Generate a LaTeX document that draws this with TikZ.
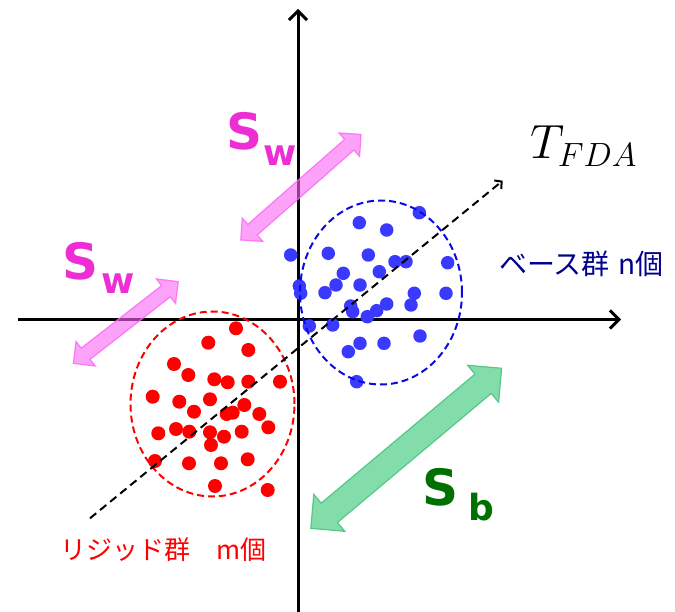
\RequirePackage{fix-cm}
\documentclass[tikz,border=0pt]{standalone}
\usepackage{fontspec}
\setsansfont{DejaVu Sans}
\newfontfamily\jpfont{Noto Sans CJK JP}
\usepackage{tikz}
\usetikzlibrary{arrows.meta,shapes.geometric,shapes.arrows}
\definecolor{fdablue}{RGB}{58,58,255}
\definecolor{fdaring}{RGB}{10,10,230}
\definecolor{fdared}{RGB}{255,0,0}
\definecolor{fdapink}{RGB}{236,46,212}
\definecolor{fdapinkfill}{RGB}{250,100,245}
\definecolor{fdagreen}{RGB}{0,112,0}
\definecolor{fdamint}{RGB}{130,221,170}
\definecolor{fdamintline}{RGB}{85,200,135}
\definecolor{fdanavy}{RGB}{0,0,140}

\begin{document}
\begin{tikzpicture}[x=1pt,y=-1pt, every node/.style={inner sep=0pt},
  bdot/.style={circle,fill=fdablue,minimum size=13.5pt},
  rdot/.style={circle,fill=fdared,minimum size=14pt},
  cluster/.style={ellipse,draw,line width=2pt,dash pattern=on 7pt off 4pt},
  widearrow/.style={double arrow,double arrow tip angle=90,line width=1.2pt,inner xsep=0pt},
  swlabel/.style={anchor=base west,text=fdapink,font=\sffamily\bfseries\fontsize{50}{50}\selectfont}]
\useasboundingbox (0,0) rectangle (675,612);
% axes
\coordinate (xl) at (18,319.5);
\coordinate (xr) at (621,319.5);
\coordinate (yb) at (298,615);
\coordinate (yt) at (298,9);
\draw[line width=3pt,-{Straight Barb[length=9pt,width=18pt]}] (xl) -- (xr);
\draw[line width=3pt,-{Straight Barb[length=9pt,width=18pt]}] (yb) -- (yt);
% base group
\foreach \x/\y [count=\i] in {359.3/222.7,386.7/230,419.3/212.7,290.7/255,328.3/253.3,368.3/255,
    395/261.7,406/261.7,447.7/262.7,343.3/273.3,379.3/271.7,299.3/286,300.7/293.3,325/292.7,
    336/285,360/285,414.3/293.3,446/293.3,350.7/306,352.7/311.7,386.7/304,376.7/310.7,
    367.3/316.7,411/305,309.3/326,332.7/325,420/336,360/343.3,348.3/351.7,384/343.3,356.7/381.7}
  \node[bdot] (b\i) at (\x,\y) {};
\node[cluster,draw=fdaring,minimum width=162pt,minimum height=184pt] (basering) at (381,292.5) {};
% rigid group
\foreach \x/\y [count=\i] in {236/328.3,208.3/342.7,248.3/350,174/364,188.3/375,214.3/379.3,
    227.7/382.3,248.3/381.7,280/381.7,152.7/396.7,179.3/401.7,210/399.3,194/411.7,244.3/405,
    226.7/414,232.7/412.7,259.3/414,268.3/427.3,158.3/433.3,176/429,189.3/431.7,210/432.3,
    224/436.7,241.7/431.7,211/445,155/461,189/463.3,221/463.3,247.7/459.3,215/486,267.7/490}
  \node[rdot] (r\i) at (\x,\y) {};
\node[cluster,draw=fdared,minimum width=164pt,minimum height=185pt] (rigidring) at (212.5,404) {};
% discriminant direction
\coordinate (tstart) at (90,518.3);
\coordinate (tend) at (502.7,180.7);
\draw[line width=2pt,dash pattern=on 8pt off 5pt,-{Straight Barb[length=5pt,width=11pt]}] (tstart) -- (tend);
\node[anchor=base west,font=\fontsize{48}{48}\selectfont] (tfda) at (530,159) {$T_{FDA}$};
% scatter arrows
\node[widearrow,fill=fdapinkfill,fill opacity=0.6,draw=fdapinkfill,draw opacity=0.8,inner ysep=6.5pt,
  rotate=41.3,minimum height=160pt,double arrow head extend=8.5pt] (swtoparr) at (300.9,187.2) {};
\node[widearrow,fill=fdapinkfill,fill opacity=0.6,draw=fdapinkfill,draw opacity=0.8,inner ysep=6.5pt,
  rotate=37.9,minimum height=133pt,double arrow head extend=8.5pt] (swlowarr) at (125.8,322.5) {};
\node[widearrow,fill=fdamint,draw=fdamintline,inner ysep=12pt,
  rotate=40,minimum height=249pt,double arrow head extend=11.5pt] (sbarr) at (406.2,448.3) {};
% labels
\node[swlabel] (swtop) at (226,150) {S\kern1pt\raisebox{-16pt}{\fontsize{36}{36}\selectfont w}};
\node[swlabel] (swlow) at (62,280) {S\kern3pt\raisebox{-14pt}{\fontsize{36}{36}\selectfont w}};
\node[swlabel,text=fdagreen] (sblab) at (422,505) {S\kern10pt\raisebox{-15pt}{\fontsize{36}{36}\selectfont b}};
\node[anchor=west,text=fdanavy,font=\jpfont\fontsize{28}{28}\selectfont] (baselab) at (499,263.5) {ベース群\kern9pt n個};
\node[anchor=west,text=fdared,font=\jpfont\fontsize{26}{26}\selectfont] (rigidlab) at (60,550) {リジッド群　m個};
\end{tikzpicture}
\end{document}
